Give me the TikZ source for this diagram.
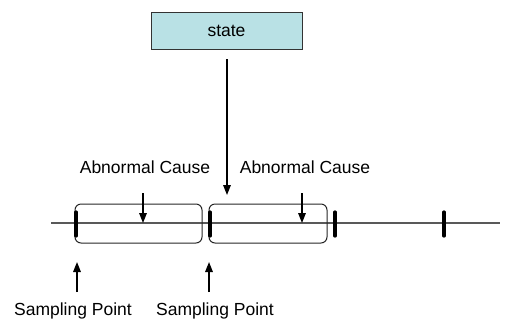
\documentclass[tikz,border=0pt]{standalone}
\usepackage{fontspec}
\setmainfont{Liberation Sans}
\usetikzlibrary{arrows.meta}
\definecolor{statecyan}{HTML}{B9E1E5}
\tikzset{
  lbl/.style={font=\fontsize{17.5}{20}\selectfont, inner sep=0pt},
  causebox/.style={draw=black!85, line width=1pt, rounded corners=6pt, minimum height=39pt},
  tick/.style={line width=3.2pt, line cap=round},
  arr/.style={line width=1.5pt, -{Triangle[length=10pt,width=7.5pt]}}
}
\begin{document}
\begin{tikzpicture}[x=1pt, y=-1pt]
  \useasboundingbox (0,0) rectangle (526,322);
  %%%%% START %%%%%

  % state box and its arrow
  \node[draw=black!80, fill=statecyan, line width=0.8pt, minimum width=151pt, minimum height=37pt,
        font=\fontsize{17.5}{20}\selectfont] (state) at (226.5, 30.5) {state};
  \coordinate (statestart) at (227, 59);
  \coordinate (stateend) at (227, 195);
  \draw[arr] (statestart) -- (stateend);

  % time line
  \coordinate (linestart) at (51, 223);
  \coordinate (lineend) at (500, 223);
  \draw[line width=1.4pt, color=black!65] (linestart) -- (lineend);

  % windows
  \node[causebox, minimum width=127pt] (win1) at (138.5, 223.5) {};
  \node[causebox, minimum width=118pt] (win2) at (268, 223.5) {};

  % sampling ticks
  \draw[tick] (76, 212) -- (76, 236);
  \draw[tick] (210, 212) -- (210, 236);
  \draw[tick] (335, 212) -- (335, 236);
  \draw[tick] (444, 212) -- (444, 236);

  % abnormal causes
  \node[lbl] (cause1) at (145, 167) {Abnormal Cause};
  \node[lbl] (cause2) at (305, 167) {Abnormal Cause};
  \coordinate (c1top) at (143, 193);
  \coordinate (c1bot) at (143, 223);
  \coordinate (c2top) at (302, 193);
  \coordinate (c2bot) at (302, 223);
  \draw[arr] (c1top) -- (c1bot);
  \draw[arr] (c2top) -- (c2bot);

  % sampling points
  \node[lbl] (samp1) at (73, 311) {Sampling Point};
  \node[lbl] (samp2) at (215, 311) {Sampling Point};
  \coordinate (s1bot) at (77, 292);
  \coordinate (s1top) at (77, 262);
  \coordinate (s2bot) at (209, 292);
  \coordinate (s2top) at (209, 262);
  \draw[arr] (s1bot) -- (s1top);
  \draw[arr] (s2bot) -- (s2top);

  %%%%% END %%%%%
\end{tikzpicture}
\end{document}
